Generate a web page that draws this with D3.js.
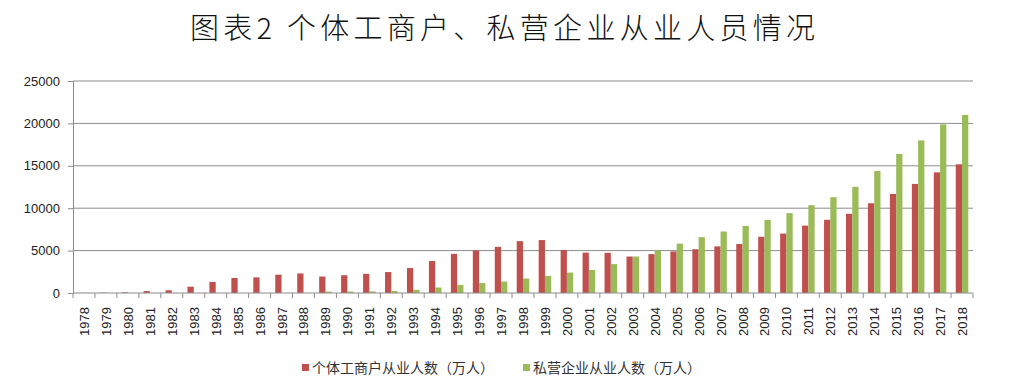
<!DOCTYPE html>
<html>
<head>
<meta charset="utf-8">
<script src="https://cdn.jsdelivr.net/npm/d3@7"></script>
<style>
  body { margin: 0; background: #fff; }
  svg { display: block; }
</style>
</head>
<body>
<div id="chart"></div>
<script>
// data
var years = ["1978","1979","1980","1981","1982","1983","1984","1985","1986","1987",
             "1988","1989","1990","1991","1992","1993","1994","1995","1996","1997",
             "1998","1999","2000","2001","2002","2003","2004","2005","2006","2007",
             "2008","2009","2010","2011","2012","2013","2014","2015","2016","2017","2018"];
var getihu = [15, 32, 81, 227, 320, 746, 1304, 1766, 1846, 2158,
              2305, 1943, 2093, 2258, 2468, 2939, 3776, 4614, 5017, 5441,
              6114, 6241, 5070, 4760, 4743, 4299, 4587, 4901, 5160, 5496,
              5776, 6632, 7008, 7945, 8629, 9336, 10584, 11682, 12862, 14225, 15176];
var siying = [0, 0, 0, 0, 0, 0, 0, 0, 0, 0,
              0, 164, 170, 184, 232, 373, 648, 956, 1171, 1349,
              1709, 2022, 2406, 2714, 3409, 4299, 5017, 5824, 6586, 7253,
              7904, 8607, 9418, 10354, 11296, 12522, 14390, 16395, 17997, 19882, 21000];
var yTicks = [0, 5000, 10000, 15000, 20000, 25000];
var seriesNames = ["个体工商户从业人数（万人）", "私营企业从业人数（万人）"];
var seriesColors = ["#c0504d", "#9bbb59"];

var total_width = 1015, total_height = 387;
var margin = {top: 81, right: 42, bottom: 94, left: 73},
    width = total_width - margin.left - margin.right,
    height = total_height - margin.top - margin.bottom;

var svg = d3.select("#chart").append("svg")
    .attr("width", total_width)
    .attr("height", total_height);

// title
svg.append("text")
    .attr("x", 190)
    .attr("y", 39)
    .attr("textLength", 625)
    .attr("lengthAdjust", "spacing")
    .attr("font-family", "'Noto Sans CJK SC', sans-serif")
    .attr("font-size", 29)
    .attr("font-weight", 300)
    .attr("fill", "#111")
    .attr("xml:space", "preserve")
    .text("图表2 个体工商户、私营企业从业人员情况");

var g = svg.append("g")
    .attr("transform", "translate(" + margin.left + "," + margin.top + ")");

var x = d3.scaleBand().domain(years).range([0, width]).padding(0);
var y = d3.scaleLinear().domain([0, 25000]).range([height, 0]);

// gridlines
g.append("g")
  .selectAll("line")
  .data(yTicks.slice(1))
  .enter().append("line")
    .attr("x1", 0).attr("x2", width)
    .attr("y1", d => y(d)).attr("y2", d => y(d))
    .attr("stroke", "#8c8c8c")
    .attr("stroke-width", 1);

// bars, gap width 150%
var barW = x.bandwidth() / 3.5;
var series = [getihu, siying];
series.forEach(function (vals, i) {
  g.append("g")
    .selectAll("rect")
    .data(vals)
    .enter().append("rect")
      .attr("x", (d, j) => x(years[j]) + x.bandwidth() * 0.75 / 3.5 + i * barW)
      .attr("y", d => y(d))
      .attr("width", barW)
      .attr("height", d => height - y(d))
      .attr("fill", seriesColors[i]);
});

// y axis
var yAxis = g.append("g")
    .call(d3.axisLeft(y).tickValues(yTicks).tickSize(5).tickPadding(8).tickFormat(d3.format("d")));
yAxis.select(".domain").attr("stroke", "#8c8c8c");
yAxis.selectAll(".tick line").attr("stroke", "#8c8c8c");
yAxis.selectAll("text")
    .attr("font-family", "'Liberation Sans', Arial, sans-serif")
    .attr("font-size", 13)
    .attr("fill", "#222");

// x axis: ticks at band edges
var xAxis = g.append("g")
    .attr("transform", "translate(0," + height + ")");
xAxis.append("line")
    .attr("x1", 0).attr("x2", width)
    .attr("stroke", "#8c8c8c");
xAxis.selectAll(".edge")
  .data(years.concat(["end"]))
  .enter().append("line")
    .attr("class", "edge")
    .attr("x1", (d, i) => i < years.length ? x(d) : width)
    .attr("x2", (d, i) => i < years.length ? x(d) : width)
    .attr("y1", 0).attr("y2", 5)
    .attr("stroke", "#8c8c8c");
xAxis.selectAll(".lbl")
  .data(years)
  .enter().append("text")
    .attr("class", "lbl")
    .attr("transform", d => "translate(" + (x(d) + x.bandwidth() / 2 + 5) + ",14) rotate(-90)")
    .attr("text-anchor", "end")
    .attr("font-family", "'Liberation Sans', Arial, sans-serif")
    .attr("font-size", 13)
    .attr("fill", "#222")
    .text(d => d);

// legend
var legendX = [302, 523];
var legend = svg.append("g");
seriesNames.forEach(function (name, i) {
  legend.append("rect")
      .attr("x", legendX[i]).attr("y", 364)
      .attr("width", 7).attr("height", 7)
      .attr("fill", seriesColors[i]);
  legend.append("text")
      .attr("x", legendX[i] + 10).attr("y", 373)
      .attr("font-family", "'Noto Sans CJK SC', sans-serif")
      .attr("font-size", 14)
      .attr("fill", "#333")
      .text(name);
});
</script>
</body>
</html>
